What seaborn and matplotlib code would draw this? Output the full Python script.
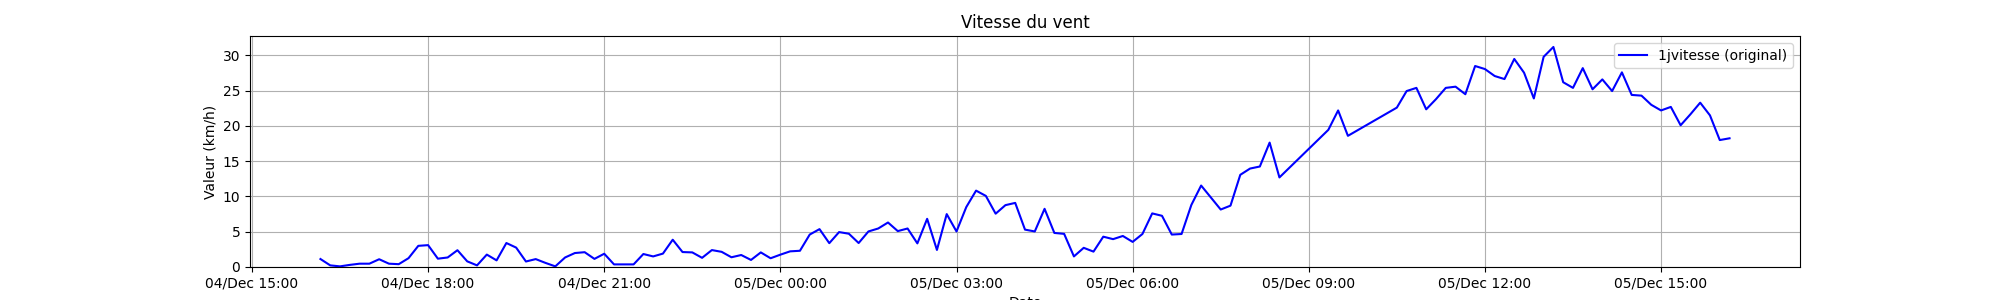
import matplotlib
matplotlib.use("Agg")
import matplotlib.pyplot as plt
import matplotlib.dates as mdates
import seaborn as sns
import pandas as pd

times = [
    "2024-12-04 16:10", "2024-12-04 16:20", "2024-12-04 16:30", "2024-12-04 16:40", "2024-12-04 16:50",
    "2024-12-04 17:00", "2024-12-04 17:10", "2024-12-04 17:20", "2024-12-04 17:30", "2024-12-04 17:40",
    "2024-12-04 17:50", "2024-12-04 18:00", "2024-12-04 18:10", "2024-12-04 18:20", "2024-12-04 18:30",
    "2024-12-04 18:40", "2024-12-04 18:50", "2024-12-04 19:00", "2024-12-04 19:10", "2024-12-04 19:20",
    "2024-12-04 19:30", "2024-12-04 19:40", "2024-12-04 19:50", "2024-12-04 20:00", "2024-12-04 20:10",
    "2024-12-04 20:20", "2024-12-04 20:30", "2024-12-04 20:40", "2024-12-04 20:50", "2024-12-04 21:00",
    "2024-12-04 21:10", "2024-12-04 21:20", "2024-12-04 21:30", "2024-12-04 21:40", "2024-12-04 21:50",
    "2024-12-04 22:00", "2024-12-04 22:10", "2024-12-04 22:20", "2024-12-04 22:30", "2024-12-04 22:40",
    "2024-12-04 22:50", "2024-12-04 23:00", "2024-12-04 23:10", "2024-12-04 23:20", "2024-12-04 23:30",
    "2024-12-04 23:40", "2024-12-04 23:50",
    "2024-12-05 00:00", "2024-12-05 00:10", "2024-12-05 00:20", "2024-12-05 00:30", "2024-12-05 00:40",
    "2024-12-05 00:50", "2024-12-05 01:00", "2024-12-05 01:10", "2024-12-05 01:20", "2024-12-05 01:30",
    "2024-12-05 01:40", "2024-12-05 01:50", "2024-12-05 02:00", "2024-12-05 02:10", "2024-12-05 02:20",
    "2024-12-05 02:30", "2024-12-05 02:40", "2024-12-05 02:50", "2024-12-05 03:00", "2024-12-05 03:10",
    "2024-12-05 03:20", "2024-12-05 03:30", "2024-12-05 03:40", "2024-12-05 03:50", "2024-12-05 04:00",
    "2024-12-05 04:10", "2024-12-05 04:20", "2024-12-05 04:30", "2024-12-05 04:40", "2024-12-05 04:50",
    "2024-12-05 05:00", "2024-12-05 05:10", "2024-12-05 05:20", "2024-12-05 05:30", "2024-12-05 05:40",
    "2024-12-05 05:50", "2024-12-05 06:00", "2024-12-05 06:10", "2024-12-05 06:20", "2024-12-05 06:30",
    "2024-12-05 06:40", "2024-12-05 06:50", "2024-12-05 07:00", "2024-12-05 07:10",
    "2024-12-05 07:30", "2024-12-05 07:40", "2024-12-05 07:50", "2024-12-05 08:00", "2024-12-05 08:10",
    "2024-12-05 08:20", "2024-12-05 08:30",
    "2024-12-05 09:20", "2024-12-05 09:30", "2024-12-05 09:40",
    "2024-12-05 10:30", "2024-12-05 10:40", "2024-12-05 10:50", "2024-12-05 11:00", "2024-12-05 11:10",
    "2024-12-05 11:20", "2024-12-05 11:30", "2024-12-05 11:40", "2024-12-05 11:50", "2024-12-05 12:00",
    "2024-12-05 12:10", "2024-12-05 12:20", "2024-12-05 12:30", "2024-12-05 12:40", "2024-12-05 12:50",
    "2024-12-05 13:00", "2024-12-05 13:10", "2024-12-05 13:20", "2024-12-05 13:30", "2024-12-05 13:40",
    "2024-12-05 13:50", "2024-12-05 14:00", "2024-12-05 14:10", "2024-12-05 14:20", "2024-12-05 14:30",
    "2024-12-05 14:40", "2024-12-05 14:50", "2024-12-05 15:00", "2024-12-05 15:10", "2024-12-05 15:20",
    "2024-12-05 15:30", "2024-12-05 15:40", "2024-12-05 15:50", "2024-12-05 16:00", "2024-12-05 16:10",
]

vitesse = [
    1.13, 0.23, 0.09, 0.30, 0.47,
    0.47, 1.10, 0.47, 0.40, 1.25,
    3.00, 3.10, 1.18, 1.35, 2.38,
    0.80, 0.23, 1.76, 0.94, 3.40,
    2.75, 0.78, 1.12, 0.58, 0.09,
    1.35, 1.98, 2.10, 1.15, 1.88,
    0.37, 0.37, 0.37, 1.84, 1.50,
    1.90, 3.87, 2.12, 2.07, 1.30,
    2.40, 2.15, 1.38, 1.70, 1.00,
    2.07, 1.24,
    1.75, 2.22, 2.30, 4.60, 5.37,
    3.38, 4.95, 4.72, 3.40, 5.04,
    5.46, 6.31, 5.09, 5.46, 3.35,
    6.83, 2.42, 7.50, 5.04, 8.50,
    10.83, 10.08, 7.56, 8.77, 9.09,
    5.30, 5.04, 8.25, 4.83, 4.70,
    1.50, 2.72, 2.18, 4.30, 3.95,
    4.40, 3.56, 4.68, 7.60, 7.26,
    4.60, 4.68, 8.80, 11.55,
    8.15, 8.70, 13.07, 13.96, 14.25,
    17.64, 12.70,
    19.45, 22.20, 18.60,
    22.60, 24.95, 25.40, 22.36, 23.80,
    25.40, 25.57, 24.50, 28.50, 28.07,
    27.08, 26.65, 29.50, 27.55, 23.90,
    29.80, 31.20, 26.20, 25.40, 28.20,
    25.20, 26.60, 24.95, 27.60, 24.40,
    24.30, 23.00, 22.20, 22.70, 20.10,
    21.65, 23.30, 21.50, 18.00, 18.25,
]

series_label = "1jvitesse (original)"
title = "Vitesse du vent"
xlabel = "Date"
ylabel = "Valeur (km/h)"

df = pd.DataFrame({"Date": pd.to_datetime(times), "Valeur": vitesse})

fig, ax = plt.subplots(figsize=(20, 3), dpi=100)
sns.lineplot(data=df, x="Date", y="Valeur", ax=ax, color="blue",
             linewidth=1.5, label=series_label)

ax.set_ylim(bottom=0)
ax.xaxis.set_major_locator(mdates.HourLocator(byhour=range(0, 24, 3)))
ax.xaxis.set_major_formatter(mdates.DateFormatter("%d/%b %H:%M"))
ax.grid(True)
ax.set_title(title)
ax.set_xlabel(xlabel)
ax.set_ylabel(ylabel)
ax.legend(loc="upper right")

fig.savefig("out.png", dpi=100)
